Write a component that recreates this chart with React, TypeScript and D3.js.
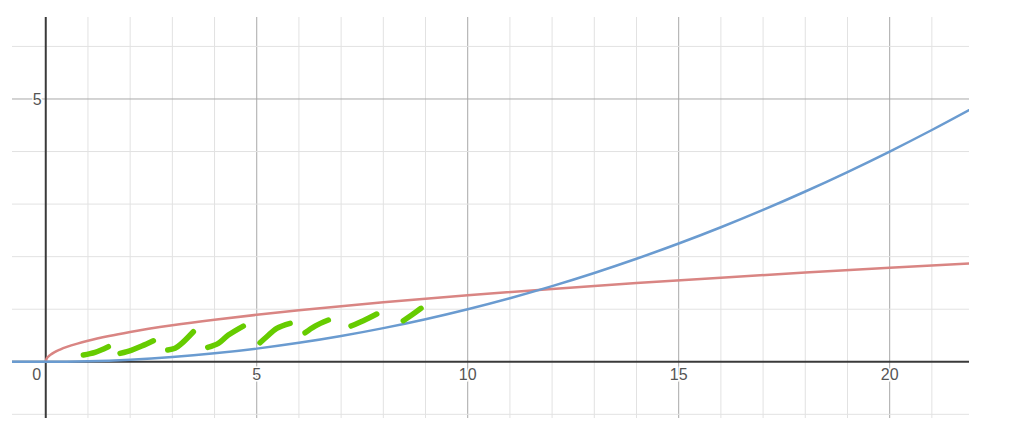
import React from "react";
import * as d3 from "d3";

// Axis ranges (data units)
const xDomain: [number, number] = [-0.8, 21.88];
const yDomain: [number, number] = [-1.07, 6.56];

// Tick labels
const xTickLabels = [5, 10, 15, 20];
const yTickLabels = [5];

// Blue curve
const blueX = [-0.8, 0, 1, 2, 3, 4, 5, 6, 7, 8, 9, 10, 11, 12, 13, 14, 15, 16, 17, 18, 19, 20, 21, 22];
const blueY = [0, 0, 0.01, 0.04, 0.09, 0.16, 0.25, 0.36, 0.49, 0.64, 0.81, 1.0, 1.21, 1.44, 1.69, 1.96, 2.25, 2.56, 2.89, 3.24, 3.61, 4.0, 4.41, 4.84];

// Red curve
const redX = [0, 0.02, 0.05, 0.1, 0.2, 0.35, 0.5, 0.75, 1, 1.5, 2, 3, 4, 5, 6, 7, 8, 9, 10, 12, 14, 16, 18, 20, 22];
const redY = [0, 0.057, 0.09, 0.126, 0.18, 0.237, 0.283, 0.346, 0.4, 0.49, 0.566, 0.693, 0.8, 0.894, 0.98, 1.058, 1.131, 1.2, 1.265, 1.386, 1.497, 1.6, 1.697, 1.789, 1.876];

// Green hand-drawn strokes
const green1 = [[0.891, 0.128], [1.168, 0.179], [1.483, 0.286]];
const green2 = [[1.761, 0.16], [2.038, 0.223], [2.275, 0.299], [2.55, 0.4]];
const green3 = [[2.891, 0.223], [3.064, 0.255], [3.223, 0.35], [3.498, 0.571]];
const green4 = [[3.839, 0.274], [4.09, 0.35], [4.327, 0.508], [4.682, 0.68]];
const green5 = [[5.078, 0.362], [5.237, 0.476], [5.474, 0.636], [5.791, 0.731]];
const green6 = [[6.145, 0.552], [6.382, 0.68], [6.697, 0.794]];
const green7 = [[7.235, 0.68], [7.526, 0.781], [7.844, 0.908]];
const green8 = [[8.474, 0.781], [8.673, 0.889], [8.893, 1.017]];
const greenStrokes = [green1, green2, green3, green4, green5, green6, green7, green8];

const W = 1015;
const H = 430;
const left = 12, right = 969, top = 17, bottom = 418;

export default function App() {
  const x = d3.scaleLinear().domain(xDomain).range([left, right]);
  const y = d3.scaleLinear().domain(yDomain).range([bottom, top]);

  const xGrid = d3.range(Math.ceil(xDomain[0]), Math.floor(xDomain[1]) + 1);
  const yGrid = d3.range(Math.ceil(yDomain[0]), Math.floor(yDomain[1]) + 1);

  const curveLine = d3
    .line<[number, number]>()
    .x((d) => x(d[0]))
    .y((d) => y(d[1]))
    .curve(d3.curveMonotoneX);

  const strokeLine = d3
    .line<number[]>()
    .x((d) => x(d[0]))
    .y((d) => y(d[1]))
    .curve(d3.curveCatmullRom);

  const bluePts = blueX.map((v, i) => [v, blueY[i]] as [number, number]);
  const redPts = redX.map((v, i) => [v, redY[i]] as [number, number]);

  const font = "Arial, 'Liberation Sans', sans-serif";

  return (
    <svg
      width={W}
      height={H}
      style={{ position: "absolute", left: 0, top: 0, background: "#fff" }}
    >
      <defs>
        <clipPath id="plot">
          <rect x={left} y={top} width={right - left} height={bottom - top} />
        </clipPath>
      </defs>
      {/* grid */}
      {xGrid.map((v) =>
        v === 0 ? null : (
          <line
            key={"gx" + v}
            x1={x(v)}
            x2={x(v)}
            y1={top}
            y2={bottom}
            stroke={v % 5 === 0 ? "#a8a8a8" : "#e2e2e2"}
            strokeWidth={1}
          />
        )
      )}
      {yGrid.map((v) =>
        v === 0 ? null : (
          <line
            key={"gy" + v}
            x1={left}
            x2={right}
            y1={y(v)}
            y2={y(v)}
            stroke={v % 5 === 0 ? "#a8a8a8" : "#e2e2e2"}
            strokeWidth={1}
          />
        )
      )}
      {/* axes */}
      <line x1={left} x2={right} y1={y(0)} y2={y(0)} stroke="#3a3a3a" strokeWidth={2} />
      <line x1={x(0)} x2={x(0)} y1={top} y2={bottom} stroke="#3a3a3a" strokeWidth={2} />

      {/* labels */}
      {xTickLabels.map((v) => (
        <text
          key={"lx" + v}
          x={x(v)}
          y={y(0) + 18.5}
          textAnchor="middle"
          fontFamily={font}
          fontSize={16}
          fill="#555"
          stroke="#fff"
          strokeWidth={3}
          paintOrder="stroke"
        >
          {v}
        </text>
      ))}
      <text
        x={x(0) - 4.5}
        y={y(0) + 18.5}
        textAnchor="end"
        fontFamily={font}
        fontSize={16}
        fill="#555"
      >
        0
      </text>
      {yTickLabels.map((v) => (
        <text
          key={"ly" + v}
          x={x(0) - 4}
          y={y(v) + 6}
          textAnchor="end"
          fontFamily={font}
          fontSize={16}
          fill="#555"
          stroke="#fff"
          strokeWidth={3}
          paintOrder="stroke"
        >
          {v}
        </text>
      ))}

      <g clipPath="url(#plot)">
        <path d={curveLine(redPts) || ""} fill="none" stroke="#d98583" strokeWidth={2.5} />
        <path d={curveLine(bluePts) || ""} fill="none" stroke="#6a9bd0" strokeWidth={2.5} />
        {greenStrokes.map((s, i) => (
          <path
            key={"g" + i}
            d={strokeLine(s) || ""}
            fill="none"
            stroke="#66cc00"
            strokeWidth={5.5}
            strokeLinecap="round"
            strokeLinejoin="round"
          />
        ))}
      </g>
    </svg>
  );
}
